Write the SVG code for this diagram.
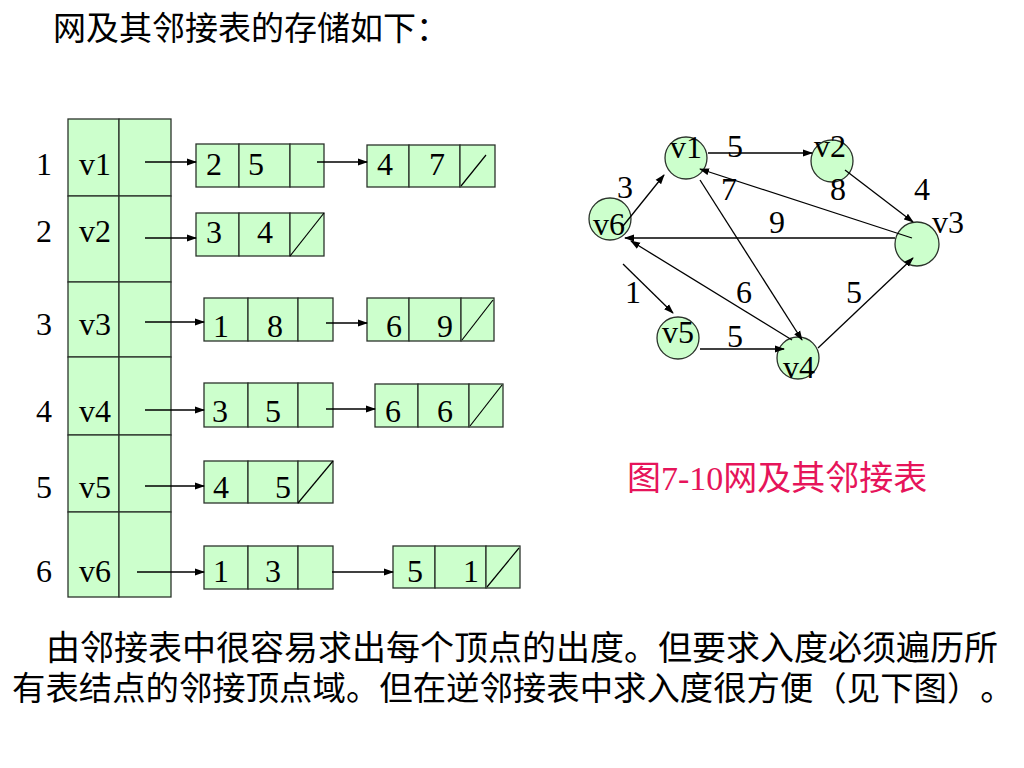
<svg xmlns="http://www.w3.org/2000/svg" width="1024" height="768" viewBox="0 0 1024 768">
<defs>
<marker id="ah" markerWidth="10" markerHeight="8" refX="9" refY="4" orient="auto" markerUnits="userSpaceOnUse">
<path d="M0,0.5 L10,4 L0,7.5 Z" fill="#000"/>
</marker>
<style>
.c{fill:#ccffcc;stroke:#2b332b;stroke-width:1.3}
.t{font-family:"Liberation Serif","Times New Roman",serif;font-size:32px;fill:#000}
.m{text-anchor:middle}
.cn{font-family:"Noto Sans CJK SC","Noto Sans CJK JP",sans-serif;fill:#000;text-spacing-trim:space-all}
.l{stroke:#000;stroke-width:1.3;fill:none;marker-end:url(#ah)}
.s{stroke:#000;stroke-width:1.2;fill:none}
</style>
</defs>
<rect width="1024" height="768" fill="#fff"/>
<text id="title" class="cn" x="53" y="40" font-size="33">网及其邻接表的存储如下：</text>

<g id="row1">
<rect class="c" x="68" y="119" width="51" height="77"/><rect class="c" x="119" y="119" width="52" height="77"/>
<text class="t m" x="44" y="175">1</text><text class="t" x="79" y="175">v1</text>
</g>
<g id="row2">
<rect class="c" x="68" y="196" width="51" height="86"/><rect class="c" x="119" y="196" width="52" height="86"/>
<text class="t m" x="44" y="242">2</text><text class="t" x="79" y="242">v2</text>
</g>
<g id="row3">
<rect class="c" x="68" y="282" width="51" height="75"/><rect class="c" x="119" y="282" width="52" height="75"/>
<text class="t m" x="44" y="335">3</text><text class="t" x="79" y="335">v3</text>
</g>
<g id="row4">
<rect class="c" x="68" y="357" width="51" height="78"/><rect class="c" x="119" y="357" width="52" height="78"/>
<text class="t m" x="44" y="422">4</text><text class="t" x="79" y="422">v4</text>
</g>
<g id="row5">
<rect class="c" x="68" y="435" width="51" height="77"/><rect class="c" x="119" y="435" width="52" height="77"/>
<text class="t m" x="44" y="498">5</text><text class="t" x="79" y="498">v5</text>
</g>
<g id="row6">
<rect class="c" x="68" y="512" width="51" height="85"/><rect class="c" x="119" y="512" width="52" height="85"/>
<text class="t m" x="44" y="582">6</text><text class="t" x="79" y="582">v6</text>
</g>

<g id="n1a">
<rect class="c" x="196" y="144" width="43" height="43"/><rect class="c" x="239" y="144" width="51" height="43"/><rect class="c" x="290" y="144" width="34" height="43"/>
<text class="t" x="206" y="175">2</text><text class="t" x="248" y="175">5</text>
</g>
<g id="n1b">
<rect class="c" x="367" y="145" width="42" height="42"/><rect class="c" x="409" y="145" width="51" height="42"/><rect class="c" x="460" y="145" width="35" height="42"/>
<line class="s" x1="461" y1="186" x2="486" y2="155"/>
<text class="t" x="377" y="175">4</text><text class="t" x="429" y="175">7</text>
</g>
<g id="n2a">
<rect class="c" x="196" y="213" width="43" height="43"/><rect class="c" x="239" y="213" width="51" height="43"/><rect class="c" x="290" y="213" width="34" height="43"/>
<line class="s" x1="290" y1="256" x2="324" y2="213"/>
<text class="t" x="206" y="243">3</text><text class="t" x="257" y="243">4</text>
</g>
<g id="n3a">
<rect class="c" x="204" y="298" width="44" height="43"/><rect class="c" x="248" y="298" width="50" height="43"/><rect class="c" x="298" y="298" width="35" height="43"/>
<text class="t" x="213" y="337">1</text><text class="t" x="267" y="337">8</text>
</g>
<g id="n3b">
<rect class="c" x="367" y="298" width="42" height="43"/><rect class="c" x="409" y="298" width="52" height="43"/><rect class="c" x="461" y="298" width="33" height="43"/>
<line class="s" x1="462" y1="340" x2="493" y2="300"/>
<text class="t" x="386" y="337">6</text><text class="t" x="437" y="337">9</text>
</g>
<g id="n4a">
<rect class="c" x="204" y="383" width="44" height="44"/><rect class="c" x="248" y="383" width="50" height="44"/><rect class="c" x="298" y="383" width="35" height="44"/>
<text class="t" x="212" y="422">3</text><text class="t" x="265" y="422">5</text>
</g>
<g id="n4b">
<rect class="c" x="375" y="384" width="43" height="43"/><rect class="c" x="418" y="384" width="51" height="43"/><rect class="c" x="469" y="384" width="34" height="43"/>
<line class="s" x1="470" y1="426" x2="502" y2="385"/>
<text class="t" x="385" y="422">6</text><text class="t" x="437" y="422">6</text>
</g>
<g id="n5a">
<rect class="c" x="204" y="461" width="44" height="42"/><rect class="c" x="248" y="461" width="50" height="42"/><rect class="c" x="298" y="461" width="35" height="42"/>
<line class="s" x1="298" y1="503" x2="333" y2="461"/>
<text class="t" x="213" y="498">4</text><text class="t" x="275" y="498">5</text>
</g>
<g id="n6a">
<rect class="c" x="204" y="546" width="44" height="43"/><rect class="c" x="248" y="546" width="50" height="43"/><rect class="c" x="298" y="546" width="35" height="43"/>
<text class="t" x="213" y="582">1</text><text class="t" x="265" y="582">3</text>
</g>
<g id="n6b">
<rect class="c" x="393" y="546" width="42" height="42"/><rect class="c" x="435" y="546" width="51" height="42"/><rect class="c" x="486" y="546" width="34" height="42"/>
<line class="s" x1="487" y1="587" x2="519" y2="548"/>
<text class="t" x="407" y="582">5</text><text class="t" x="463" y="582">1</text>
</g>

<g id="gv1"><circle class="c" cx="686" cy="158" r="21"/><text class="t m" x="686" y="158">v1</text></g>
<g id="gv2"><circle class="c" cx="832" cy="161" r="21"/><text class="t m" x="830" y="157">v2</text></g>
<g id="gv3"><circle class="c" cx="917" cy="244" r="22"/><text class="t" x="932" y="233">v3</text></g>
<g id="gv6"><circle class="c" cx="610" cy="219" r="21"/><text class="t m" x="609" y="235">v6</text></g>
<g id="gv5"><circle class="c" cx="678" cy="338" r="21"/><text class="t m" x="678" y="343">v5</text></g>
<g id="gv4"><circle class="c" cx="798" cy="358" r="21"/><text class="t m" x="799" y="378">v4</text></g>

<g id="connectors">
<line class="l" x1="145" y1="162" x2="196" y2="162"/>
<line class="l" x1="317" y1="162" x2="367" y2="162"/>
<line class="l" x1="145" y1="238" x2="196" y2="238"/>
<line class="l" x1="145" y1="322" x2="204" y2="322"/>
<line class="l" x1="326" y1="323" x2="367" y2="323"/>
<line class="l" x1="145" y1="410" x2="204" y2="410"/>
<line class="l" x1="326" y1="409" x2="375" y2="409"/>
<line class="l" x1="145" y1="486" x2="204" y2="486"/>
<line class="l" x1="137" y1="572" x2="204" y2="572"/>
<line class="l" x1="332" y1="572" x2="393" y2="572"/>

<line class="l" x1="708" y1="153" x2="812" y2="153"/>
<line class="l" x1="845" y1="170" x2="913" y2="222"/>
<line class="l" x1="912" y1="238" x2="700" y2="169"/>
<line class="l" x1="895" y1="238" x2="625" y2="238"/>
<line class="l" x1="623" y1="226" x2="664" y2="175"/>
<line class="l" x1="700" y1="180" x2="802" y2="340"/>
<line class="l" x1="792" y1="340" x2="631" y2="241"/>
<line class="l" x1="818" y1="348" x2="913" y2="258"/>
<line class="l" x1="700" y1="349" x2="784" y2="349"/>
<line class="l" x1="623" y1="264" x2="673" y2="313"/>
</g>

<g id="weights">
<text class="t m" x="735" y="157">5</text>
<text class="t m" x="838" y="200">8</text>
<text class="t m" x="729" y="200">7</text>
<text class="t m" x="922" y="200">4</text>
<text class="t m" x="777" y="233">9</text>
<text class="t m" x="625" y="198">3</text>
<text class="t m" x="744" y="303">6</text>
<text class="t m" x="854" y="303">5</text>
<text class="t m" x="735" y="347">5</text>
<text class="t m" x="633" y="303">1</text>
</g>

<text id="caption" x="627" y="490" font-size="34" fill="#e6145a" font-family="Liberation Serif, Noto Sans CJK SC, serif">图7-10网及其邻接表</text>
<text id="para" class="cn" font-size="34"><tspan x="46" y="660">由邻接表中很容易求出每个顶点的出度。但要求入度必须遍历所</tspan><tspan x="12" y="700" font-size="33.4">有表结点的邻接顶点域。但在逆邻接表中求入度很方便（见下图）。</tspan></text>
</svg>
